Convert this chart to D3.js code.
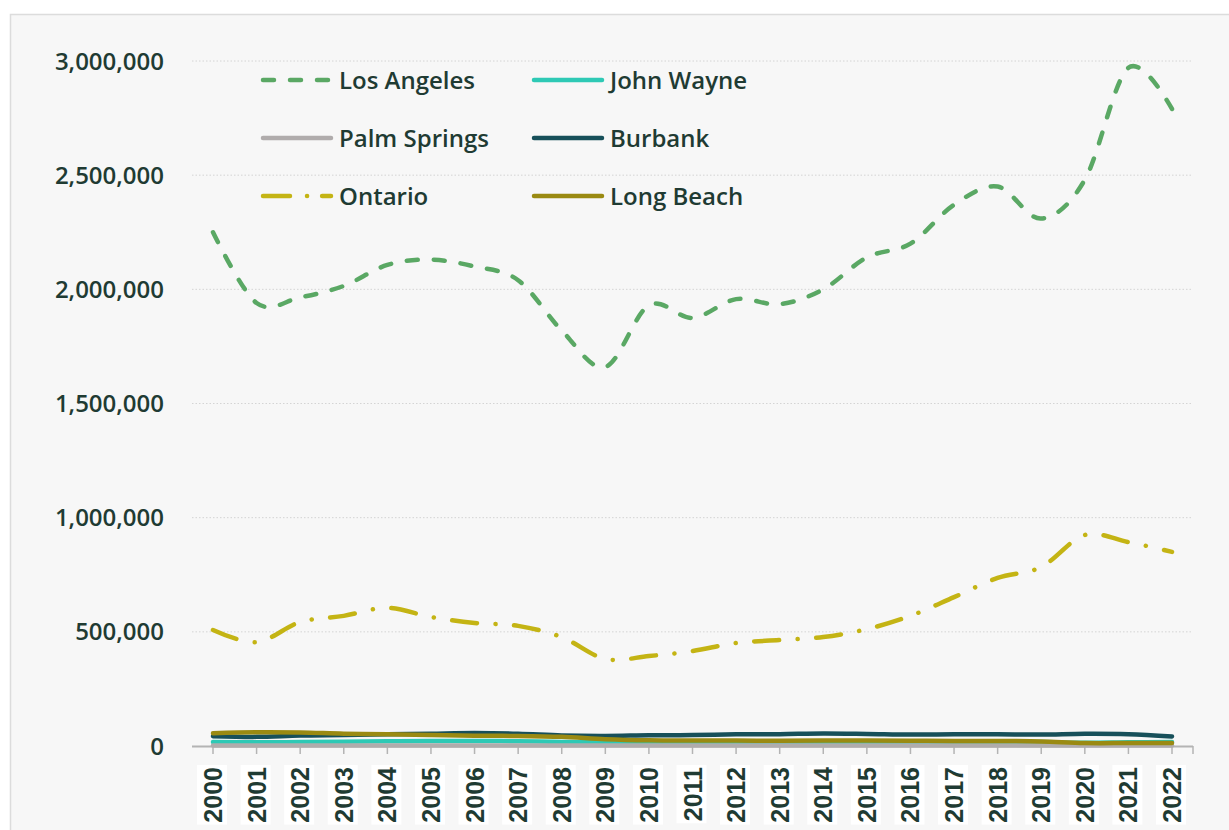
<!DOCTYPE html>
<html>
<head>
<meta charset="utf-8">
<script src="https://cdn.jsdelivr.net/npm/d3@7"></script>
<style>
  html, body { margin: 0; padding: 0; background: #fff; overflow: hidden; }
</style>
</head>
<body>
<script>
const years = d3.range(2000, 2023).map(String);

const losAngeles = [2250000, 1940000, 1965000, 2015000, 2107000, 2130000, 2100000, 2040000, 1820000, 1660000,
    1930000, 1875000, 1957000, 1935000, 2000000, 2140000, 2200000, 2370000, 2450000, 2310000,
    2480000, 2970000, 2790000];
const ontario = [508000, 455000, 543000, 570000, 605000, 565000, 539000, 526000, 477000, 381000,
    394000, 416000, 451000, 464000, 477000, 512000, 570000, 652000, 736000, 784000,
    924000, 893000, 850000];
const burbank = [43000, 40000, 46000, 48000, 51000, 54000, 57000, 54000, 46000, 44000,
    47000, 48000, 51000, 52000, 55000, 53000, 50000, 51000, 51000, 50000,
    54000, 52000, 42000];
const longBeach = [56000, 60000, 59000, 54000, 52000, 48000, 45000, 44000, 40000, 30000,
    25000, 24000, 24000, 23000, 24000, 24000, 23000, 22000, 22000, 20000,
    13000, 13000, 13000];
const johnWayne = [18000, 16000, 17000, 19000, 21000, 22000, 22000, 21000, 18000, 16000,
    17000, 18000, 18000, 18000, 19000, 19000, 18000, 18000, 18000, 17000,
    14000, 16000, 17000];
const palmSprings = [2000, 2000, 2000, 2000, 2000, 2000, 2000, 2000, 2000, 2000,
    2000, 2000, 2000, 2000, 2000, 2000, 2000, 2000, 2000, 2000,
    2000, 2000, 2000];

const yTicks = [0, 500000, 1000000, 1500000, 2000000, 2500000, 3000000];

const series = [
    { name: "Los Angeles", values: losAngeles, color: "#5aa864", dash: "11,16" },
    { name: "John Wayne", values: johnWayne, color: "#2ec9b5", dash: null },
    { name: "Palm Springs", values: palmSprings, color: "#b0acac", dash: null },
    { name: "Burbank", values: burbank, color: "#17505a", dash: null },
    { name: "Ontario", values: ontario, color: "#c4b414", dash: "25,18.5,0.1,18.5" },
    { name: "Long Beach", values: longBeach, color: "#9a8a12", dash: null }
];

const W = 1229, H = 830;
const textColor = "#1f3b33";
const font = "'Open Sans', 'Noto Sans', sans-serif";

const svg = d3.select("body")
    .append("svg")
    .attr("width", W)
    .attr("height", H);

// chart frame
svg.append("rect")
    .attr("x", 10.5)
    .attr("y", 14.5)
    .attr("width", W)
    .attr("height", H)
    .attr("fill", "#f7f7f7")
    .attr("stroke", "#dcdcdc")
    .attr("stroke-width", 1.5);

const x = d3.scalePoint()
    .domain(years)
    .range([213, 1172]);

const y = d3.scaleLinear()
    .domain([0, 3000000])
    .range([746, 61]);

const left = 192, right = 1193;

// gridlines
svg.append("g")
    .selectAll("line")
    .data(yTicks.filter(d => d > 0))
    .join("line")
    .attr("x1", left)
    .attr("x2", right)
    .attr("y1", d => y(d))
    .attr("y2", d => y(d))
    .attr("stroke", "#d4d4d4")
    .attr("stroke-width", 1)
    .attr("stroke-dasharray", "1.5,2");

// y labels
svg.append("g")
    .selectAll("text")
    .data(yTicks)
    .join("text")
    .attr("x", 164)
    .attr("y", d => y(d))
    .attr("dy", "0.36em")
    .attr("text-anchor", "end")
    .attr("font-family", font)
    .attr("font-weight", 600)
    .attr("font-size", "24px")
    .attr("fill", textColor)
    .text(d => d3.format(",")(d));

// x axis line + ticks
svg.append("line")
    .attr("x1", left)
    .attr("x2", right)
    .attr("y1", 746.5)
    .attr("y2", 746.5)
    .attr("stroke", "#b4b4b4")
    .attr("stroke-width", 2);

svg.append("g")
    .selectAll("line")
    .data(years.map(d => x(d)).concat([right]))
    .join("line")
    .attr("x1", d => d)
    .attr("x2", d => d)
    .attr("y1", 746)
    .attr("y2", 754)
    .attr("stroke", "#b4b4b4")
    .attr("stroke-width", 1.5);

// year labels with white boxes
const yearG = svg.append("g")
    .selectAll("g")
    .data(years)
    .join("g")
    .attr("transform", d => `translate(${x(d)},767) rotate(-90)`);

yearG.append("text")
    .attr("x", 0)
    .attr("y", 0)
    .attr("dy", "0.36em")
    .attr("text-anchor", "end")
    .attr("font-family", "'Liberation Sans', Arial, sans-serif")
    .attr("font-weight", "bold")
    .attr("font-size", "25px")
    .attr("fill", textColor)
    .text(d => d);

yearG.each(function() {
    const g = d3.select(this);
    const b = g.select("text").node().getBBox();
    g.insert("rect", "text")
        .attr("x", b.x - 2)
        .attr("y", b.y - 2)
        .attr("width", b.width + 4)
        .attr("height", b.height + 2)
        .attr("fill", "#ffffff");
});

// lines
const line = d3.line()
    .x((d, i) => x(years[i]))
    .y(d => y(d))
    .curve(d3.curveCatmullRom.alpha(0));

svg.append("g")
    .selectAll("path")
    .data(series)
    .join("path")
    .attr("d", d => line(d.values))
    .attr("fill", "none")
    .attr("stroke", d => d.color)
    .attr("stroke-width", 4.5)
    .attr("stroke-linecap", "round")
    .attr("stroke-linejoin", "round")
    .attr("stroke-dasharray", d => d.dash);

// legend
const legend = svg.append("g")
    .selectAll("g")
    .data(series)
    .join("g")
    .attr("transform", (d, i) => `translate(${i % 2 === 0 ? 261 : 532},${80 + Math.floor(i / 2) * 58})`);

legend.append("line")
    .attr("x1", 2)
    .attr("x2", 70)
    .attr("y1", 0)
    .attr("y2", 0)
    .attr("stroke", d => d.color)
    .attr("stroke-width", 4.5)
    .attr("stroke-linecap", "round")
    .attr("stroke-dasharray", d => d.name === "Ontario" ? "27,17,0.1,15,30" : d.dash);

legend.append("text")
    .attr("x", 78)
    .attr("y", 0)
    .attr("dy", "0.36em")
    .attr("font-family", font)
    .attr("font-weight", 600)
    .attr("font-size", "24px")
    .attr("fill", textColor)
    .text(d => d.name);
</script>
</body>
</html>
